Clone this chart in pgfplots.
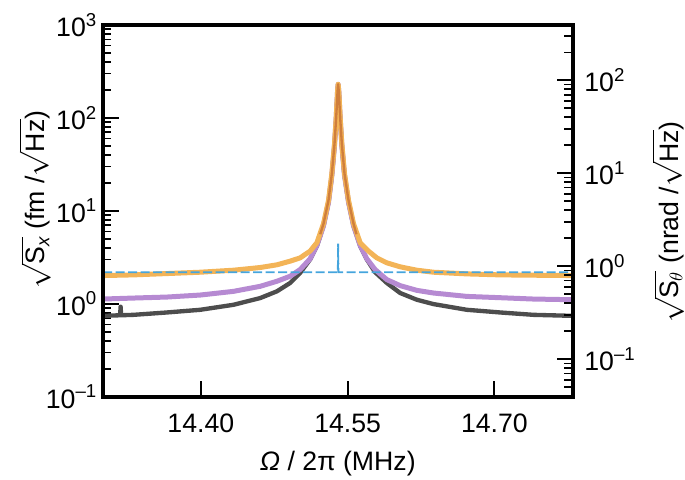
\documentclass[border=0pt]{standalone}
\usepackage{fontspec}
\setmainfont{Liberation Sans}
\usepackage{amsmath}
\usepackage{pgfplots}
\pgfplotsset{compat=1.18}
\definecolor{cblack}{HTML}{4D4D4D}
\definecolor{cpurple}{HTML}{B68AD2}
\definecolor{corange}{HTML}{F3B457}
\definecolor{cfit}{HTML}{CF7E3C}
\definecolor{cblue}{HTML}{45A5DD}

\begin{document}
\begin{tikzpicture}[x=1pt,y=1pt]
\path[use as bounding box] (0,0) rectangle (411,287.4);
\begin{axis}[
  at={(61.8pt,49.4pt)}, anchor=south west,
  scale only axis, width=281.8pt, height=223pt,
  xmin=14.30, xmax=14.78, ymode=log,
  ymin=0.1, ymax=1000,
  tick align=inside,
  major tick length=9.5pt, minor tick length=5pt,
  every tick/.style={line width=1.1pt, black},
  every minor tick/.style={line width=1.0pt, black},
  axis line style={line width=2.3pt},
  tick label style={font=\fontsize{16}{18}\selectfont},
  xtick pos=bottom, ytick pos=left,
  xtick={14.40,14.55,14.70},
  xticklabels={14.40,14.55,14.70},
  xticklabel style={yshift=-7pt},
  ytick={0.1,1,10,100,1000},
  yticklabels={10\textsuperscript{–1},10\textsuperscript{0},10\textsuperscript{1},10\textsuperscript{2},10\textsuperscript{3}},
  minor ytick={0.2,0.3,0.4,0.5,0.6,0.7,0.8,0.9,2,3,4,5,6,7,8,9,20,30,40,50,60,70,80,90,200,300,400,500,600,700,800,900},
  xlabel={\textit{Ω} / 2π (MHz)},
  xlabel style={font=\fontsize{16}{18}\selectfont, yshift=-4pt},
  ylabel={$\sqrt{\text{S}_{\textit{x}}}$ (fm /$\sqrt{\text{Hz}}$)},
  every axis y label/.style={at={(axis description cs:-0.145,0.53)}, anchor=center, rotate=90, inner sep=0pt, font=\fontsize{16}{18}\selectfont},
]
\addplot[cblack, line width=2.6pt, line join=round] coordinates {
(14.300,0.741) (14.3175,0.752) (14.3180,0.93) (14.3185,0.752) (14.3313,0.760) (14.3654,0.806) (14.3994,0.861)
(14.4334,0.975) (14.4607,1.152) (14.4777,1.360) (14.4913,1.675) (14.5015,2.149)
(14.5117,3.00) (14.5186,4.18) (14.5254,6.88) (14.5305,12.32) (14.5339,24.0)
(14.5366,50.7) (14.5383,98.5) (14.5397,191.7) (14.5403,230) (14.5410,191.7)
(14.5424,98.5) (14.5441,50.7) (14.5468,24.0) (14.5509,12.32) (14.5560,6.88)
(14.5628,4.18) (14.5696,3.00) (14.5781,2.185) (14.5900,1.675) (14.6037,1.305)
(14.6207,1.105) (14.6377,0.992) (14.6718,0.861) (14.7058,0.806) (14.7398,0.760)
(14.780,0.741)};
\addplot[cpurple, line width=3pt, line join=round] coordinates {
(14.300,1.124) (14.3313,1.152) (14.3654,1.181) (14.3994,1.241) (14.4334,1.360)
(14.4607,1.541) (14.4777,1.746) (14.4913,1.978) (14.5015,2.335) (14.5117,3.05)
(14.5186,4.25) (14.5254,6.95) (14.5305,12.4) (14.5339,24.1) (14.5366,50.7)
(14.5383,98.5) (14.5397,191.7) (14.5403,230) (14.5410,191.7) (14.5424,98.5)
(14.5441,50.7) (14.5468,24.1) (14.5509,12.4) (14.5560,6.95) (14.5628,4.25)
(14.5696,3.05) (14.5781,2.335) (14.5900,1.820) (14.6037,1.567) (14.6207,1.394)
(14.6377,1.305) (14.6718,1.200) (14.7058,1.162) (14.7398,1.124) (14.780,1.105)};
\addplot[corange, line width=3pt, line join=round] coordinates {
(14.300,2.011) (14.3313,2.045) (14.3654,2.113) (14.3994,2.185) (14.4334,2.297)
(14.4607,2.455) (14.4777,2.624) (14.4913,2.875) (14.5015,3.12) (14.5117,3.69)
(14.5186,4.54) (14.5254,7.3) (14.5305,13.0) (14.5339,25.2) (14.5366,52.5)
(14.5383,100) (14.5397,193) (14.5403,230) (14.5410,193) (14.5424,100)
(14.5441,52.5) (14.5468,25.2) (14.5509,13.0) (14.5560,7.3) (14.5628,4.54)
(14.5713,3.69) (14.5798,3.12) (14.5900,2.758) (14.6037,2.497) (14.6207,2.297)
(14.6377,2.185) (14.6718,2.096) (14.7058,2.045) (14.7398,2.028) (14.780,2.011)};
\addplot[cfit, line width=1.4pt, line join=round] coordinates {
(14.5220,5.6) (14.5254,7.3) (14.5305,13.0) (14.5339,25.2) (14.5366,52.5)
(14.5383,100) (14.5397,193) (14.5403,230) (14.5410,193) (14.5424,100)
(14.5441,52.5) (14.5468,25.2) (14.5509,13.0) (14.5560,7.3) (14.5590,5.6)};
\addplot[cblue, line width=1.1pt, dash pattern=on 5.5pt off 2pt] coordinates {
(14.300,2.185) (14.5400,2.185) (14.5403,4.43) (14.5406,2.185) (14.780,2.185)};
\end{axis}
\begin{axis}[
  at={(61.8pt,49.4pt)}, anchor=south west,
  scale only axis, width=281.8pt, height=223pt,
  xmin=14.30, xmax=14.78, ymode=log,
  ymin=0.0394, ymax=394,
  tick align=inside,
  major tick length=9.5pt, minor tick length=5pt,
  every tick/.style={line width=1.1pt, black},
  every minor tick/.style={line width=1.0pt, black},
  axis line style={line width=2.3pt},
  tick label style={font=\fontsize{16}{18}\selectfont},
  xtick=\empty, ytick pos=right, yticklabel pos=right,
  ytick={0.1,1,10,100},
  yticklabels={10\textsuperscript{–1},10\textsuperscript{0},10\textsuperscript{1},10\textsuperscript{2}},
  yticklabel style={xshift=3.5pt},
  minor ytick={0.05,0.06,0.07,0.08,0.09,0.2,0.3,0.4,0.5,0.6,0.7,0.8,0.9,2,3,4,5,6,7,8,9,20,30,40,50,60,70,80,90,200,300},
  ylabel={$\sqrt{\text{S}_{\theta}}$ (nrad /$\sqrt{\text{Hz}}$)},
  every axis y label/.style={at={(axis description cs:1.203,0.47)}, anchor=center, rotate=90, inner sep=0pt, font=\fontsize{16}{18}\selectfont},
]
\addplot[draw=none] coordinates {(14.5,1)};
\end{axis}
\end{tikzpicture}
\end{document}
